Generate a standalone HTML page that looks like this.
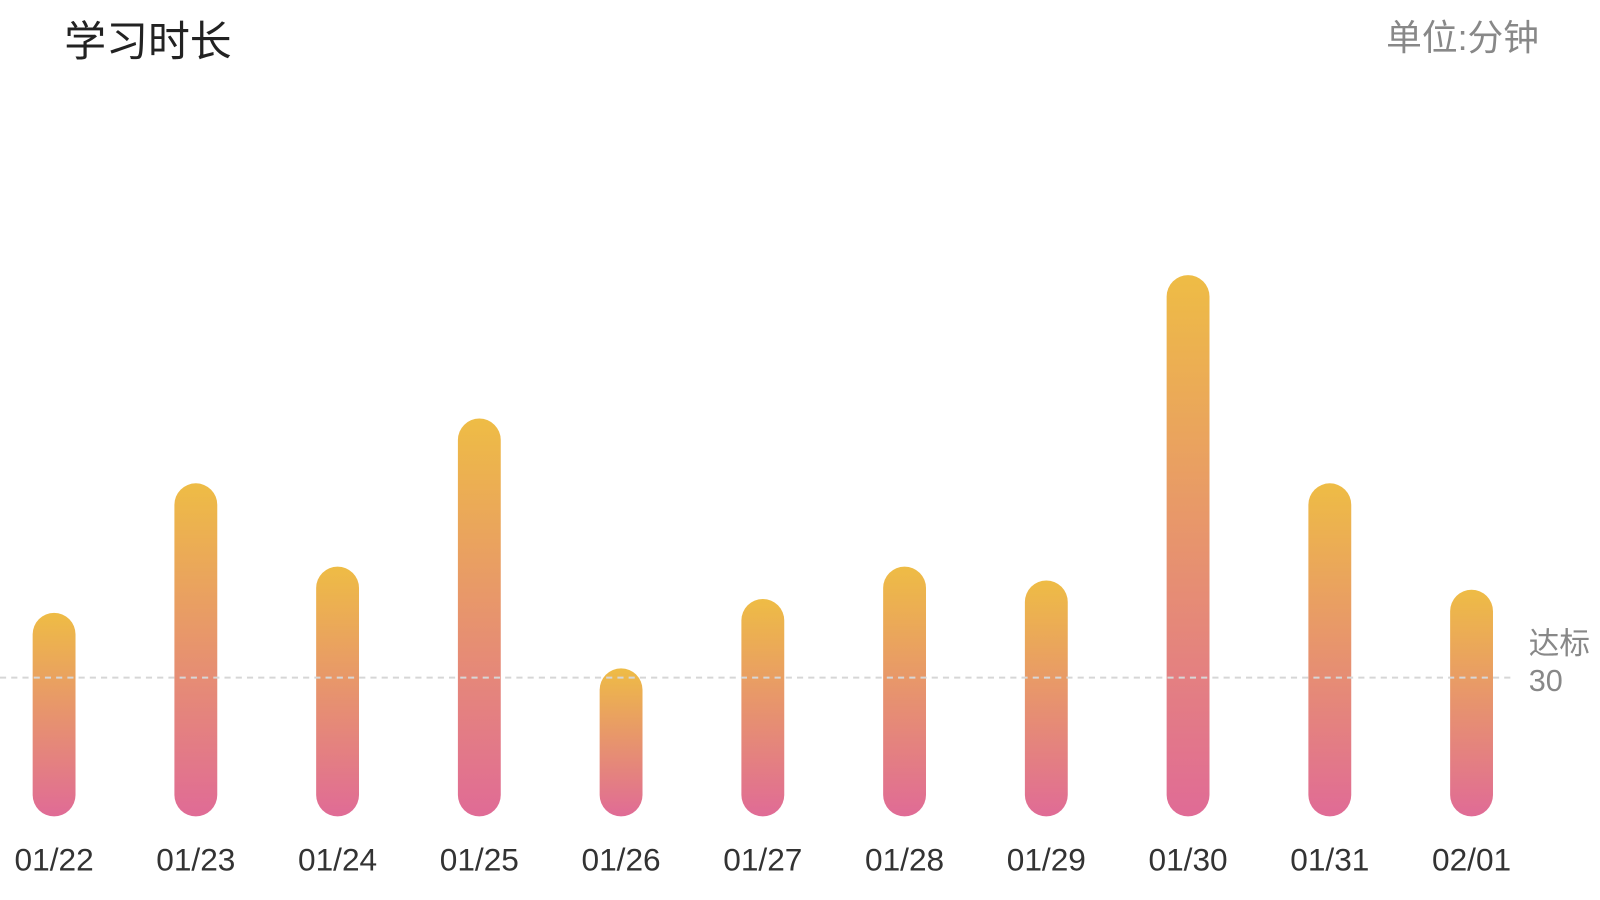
<!DOCTYPE html>
<html><head><meta charset="utf-8"><style>
html,body{margin:0;padding:0;background:#fff;width:1600px;height:900px;overflow:hidden}
svg text{font-family:"Liberation Sans","Noto Sans CJK SC",sans-serif}
</style></head><body>
<svg width="1600" height="900">
<defs><linearGradient id="g" x1="0" y1="0" x2="0" y2="1"><stop offset="0" stop-color="#EEBC45"/><stop offset="1" stop-color="#E06B96"/></linearGradient></defs>
<g id="chart" transform="scale(1.0205)">
<text x="63" y="55" font-size="41" fill="#222">学习时长</text>
<text x="1508" y="49" font-size="35" fill="#888" text-anchor="end">单位:分钟</text>
<g id="bars"></g>
<g id="labels"></g>
</g>
</svg>
<script>
const categories=["01/22","01/23","01/24","01/25","01/26","01/27","01/28","01/29","01/30","01/31","02/01"];
const values=[44,72,54,86,32,47,54,51,117,72,49];
const targetValue=[30];
const NS="http://www.w3.org/2000/svg";
const base=800, pxPer=136/30, x0=53, step=138.9, bw=42;
const y=v=>base-v*pxPer, x=i=>x0+i*step;
const svg=document.getElementById('chart'), bars=document.getElementById('bars'), labels=document.getElementById('labels');
categories.forEach((c,i)=>{
  const r=document.createElementNS(NS,'rect');
  const top=y(values[i]);
  r.setAttribute('x',x(i)-bw/2);r.setAttribute('y',top);r.setAttribute('width',bw);r.setAttribute('height',base-top);
  r.setAttribute('rx',bw/2);r.setAttribute('fill','url(#g)');
  
  
  bars.appendChild(r);
  const t=document.createElementNS(NS,'text');
  t.setAttribute('x',x(i));t.setAttribute('y',853);t.setAttribute('font-size','31');t.setAttribute('fill','#333');t.setAttribute('text-anchor','middle');
  t.textContent=c;
  
  
  labels.appendChild(t);
});
const ly=y(targetValue[0]);
const l=document.createElementNS(NS,'line');
l.setAttribute('x1',0);l.setAttribute('x2',1485);l.setAttribute('y1',ly);l.setAttribute('y2',ly);
l.setAttribute('stroke','#d6d6d6');l.setAttribute('stroke-width','2');l.setAttribute('stroke-dasharray','6 5');


svg.appendChild(l);
const t1=document.createElementNS(NS,'text');
t1.setAttribute('x',1498);t1.setAttribute('y',ly-23);t1.setAttribute('font-size','30');t1.setAttribute('fill','#888');
t1.textContent='达标';


svg.appendChild(t1);
const t2=document.createElementNS(NS,'text');
t2.setAttribute('x',1498);t2.setAttribute('y',ly+13);t2.setAttribute('font-size','30');t2.setAttribute('fill','#888');
t2.textContent=targetValue[0];


svg.appendChild(t2);
</script>
</body></html>
